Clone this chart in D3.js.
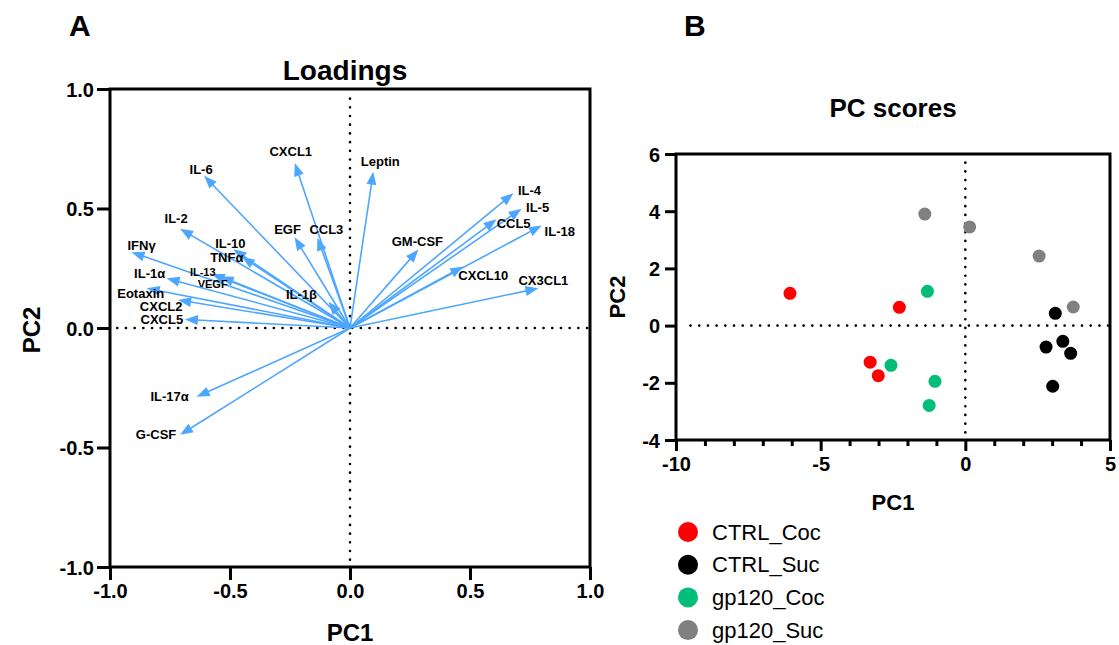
<!DOCTYPE html>
<html>
<head>
<meta charset="utf-8">
<script src="https://cdn.jsdelivr.net/npm/d3@7"></script>
<style>
  body { margin: 0; background: #fff; }
  svg { display: block; font-family: "Liberation Sans", Arial, sans-serif; }
</style>
</head>
<body>
<svg id="chart" width="1119" height="645"></svg>
<script>
// ---------- DATA ----------
const loadingVars = ["IL-6","CXCL1","Leptin","IL-2","EGF","CCL3","IL-10","TNFα","IFNγ","IL-13","VEGF","IL-1α","Eotaxin","CXCL2","CXCL5","IL-1β","GM-CSF","IL-4","IL-5","CCL5","IL-18","CXCL10","CX3CL1","IL-17α","G-CSF"];
const loadingPC1 = [-0.608,-0.230, 0.097,-0.708,-0.231,-0.136,-0.486,-0.451,-0.910,-0.576,-0.539,-0.764,-0.847,-0.716,-0.688,-0.090, 0.285, 0.681, 0.715, 0.611, 0.799, 0.472, 0.785,-0.639,-0.708];
const loadingPC2 = [ 0.637, 0.690, 0.654, 0.415, 0.380, 0.378, 0.329, 0.298, 0.317, 0.226, 0.215, 0.208, 0.166, 0.117, 0.036, 0.110, 0.328, 0.564, 0.499, 0.455, 0.429, 0.257, 0.166,-0.288,-0.447];

const groups = ["CTRL_Coc","CTRL_Suc","gp120_Coc","gp120_Suc"];
const scoreGroup = ["CTRL_Coc","CTRL_Coc","CTRL_Coc","CTRL_Coc",
                    "CTRL_Suc","CTRL_Suc","CTRL_Suc","CTRL_Suc","CTRL_Suc",
                    "gp120_Coc","gp120_Coc","gp120_Coc","gp120_Coc",
                    "gp120_Suc","gp120_Suc","gp120_Suc","gp120_Suc"];
const scorePC1 = [-6.06,-2.28,-3.29,-3.01,  3.11, 3.37, 2.79, 3.64, 3.02,  -1.31,-2.57,-1.05,-1.25,  -1.40, 0.15, 2.55, 3.73];
const scorePC2 = [ 1.13, 0.64,-1.28,-1.75,  0.43,-0.55,-0.75,-0.97,-2.12,   1.20,-1.39,-1.95,-2.79,   3.90, 3.45, 2.43, 0.65];

const loadTicks = [-1.0,-0.5,0.0,0.5,1.0];
const scoreXTicks = [-10,-5,0,5];
const scoreXMinor = [-9,-8,-7,-6,-4,-3,-2,-1,1,2,3,4];
const scoreYTicks = [-4,-2,0,2,4,6];

// ---------- LAYOUT / STYLE ----------
const labelOffset = { // px offset of label centre from arrow tip
  "IL-6":[-3,-6],"CXCL1":[-4,-12],"Leptin":[7,-10],"IL-2":[-4,-10],"EGF":[-7,-8],"CCL3":[9,-8],
  "IL-10":[-3,-6],"TNFα":[-15,1],"IFNγ":[10,-7],"IL-13":[-9,-2],"VEGF":[-8,7],"IL-1α":[-17,-5],
  "Eotaxin":[-6,5],"CXCL2":[-17,6],"CXCL5":[-23,0],"IL-1β":[-27,-7],"GM-CSF":[-1,-8],
  "IL-4":[16,-3],"IL-5":[16,-1],"CCL5":[17,4],"IL-18":[18,6],"CXCL10":[20,9],"CX3CL1":[5,-8],
  "IL-17α":[-27,0],"G-CSF":[-24,0]
};
const smallLabels = new Set(["IL-13","VEGF"]);
const groupColor = d3.scaleOrdinal().domain(groups).range(["#ff0000","#000000","#00be78","#808080"]);
const arrowColor = "#4da6ff";
const hyphen = f => (d => f(d).replace("\u2212","-"));

const svg = d3.select("#chart");

// ===== Panel A: Loadings =====
const xL = d3.scaleLinear().domain([-1,1]).range([110,590]);
const yL = d3.scaleLinear().domain([-1,1]).range([567,89]);

const gA = svg.append("g");
gA.append("line").attr("x1",xL(-0.97)).attr("x2",xL(1)).attr("y1",yL(0)).attr("y2",yL(0))
  .attr("stroke","#000").attr("stroke-width",2.6).attr("stroke-linecap","round").attr("stroke-dasharray","0.1 8.6");
gA.append("line").attr("x1",xL(0)).attr("x2",xL(0)).attr("y1",yL(0.96)).attr("y2",yL(-1))
  .attr("stroke","#000").attr("stroke-width",2.6).attr("stroke-linecap","round").attr("stroke-dasharray","0.1 8.6");

const headLen = 13, headHalf = 5;
const arrows = gA.append("g");
loadingVars.forEach((name,i) => {
  const x0 = xL(0), y0 = yL(0), x1 = xL(loadingPC1[i]), y1 = yL(loadingPC2[i]);
  const dx = x1-x0, dy = y1-y0, L = Math.hypot(dx,dy), ux = dx/L, uy = dy/L;
  const bx = x1-ux*headLen, by = y1-uy*headLen;
  arrows.append("line").attr("x1",x0).attr("y1",y0).attr("x2",bx+ux*2).attr("y2",by+uy*2)
    .attr("stroke",arrowColor).attr("stroke-width",1.6);
  arrows.append("path")
    .attr("d",`M${x1},${y1}L${bx-uy*headHalf},${by+ux*headHalf}L${bx+uy*headHalf},${by-ux*headHalf}Z`)
    .attr("fill",arrowColor);
  const off = labelOffset[name] || [0,0];
  arrows.append("text").attr("x",x1+off[0]).attr("y",y1+off[1])
    .attr("text-anchor","middle").attr("dominant-baseline","central")
    .attr("font-weight","bold").attr("font-size",smallLabels.has(name)?11:13)
    .attr("fill","#000").text(name);
});

const axA_x = gA.append("g").attr("transform",`translate(0,${yL(-1)})`)
  .call(d3.axisBottom(xL).tickValues(loadTicks).tickFormat(hyphen(d3.format(".1f"))).tickSize(13).tickPadding(4));
const axA_y = gA.append("g").attr("transform",`translate(${xL(-1)},0)`)
  .call(d3.axisLeft(yL).tickValues(loadTicks).tickFormat(hyphen(d3.format(".1f"))).tickSize(13).tickPadding(3));
[axA_x, axA_y].forEach(a => {
  a.select(".domain").remove();
  a.selectAll("line").attr("stroke","#000").attr("stroke-width",3);
  a.selectAll("text").attr("font-size",20).attr("font-weight","bold").attr("fill","#000")
    .attr("font-family","'Liberation Sans', Arial, sans-serif");
});
axA_y.selectAll("text").attr("dy","0.35em");
gA.append("rect").attr("x",xL(-1)).attr("y",yL(1)).attr("width",xL(1)-xL(-1)).attr("height",yL(-1)-yL(1))
  .attr("fill","none").attr("stroke","#000").attr("stroke-width",3);

gA.append("text").attr("x",345).attr("y",80).attr("text-anchor","middle")
  .attr("font-size",28).attr("font-weight","bold").text("Loadings");
gA.append("text").attr("x",350).attr("y",641).attr("text-anchor","middle")
  .attr("font-size",24).attr("font-weight","bold").text("PC1");
gA.append("text").attr("transform","translate(40,330) rotate(-90)").attr("text-anchor","middle")
  .attr("font-size",24).attr("font-weight","bold").text("PC2");
svg.append("text").attr("x",69).attr("y",36).attr("font-size",30).attr("font-weight","bold").text("A");

// ===== Panel B: PC scores =====
const xS = d3.scaleLinear().domain([-10,5]).range([676,1110]);
const yS = d3.scaleLinear().domain([-4,6]).range([440,154]);
const gB = svg.append("g");

gB.append("line").attr("x1",xS(-9.5)).attr("x2",xS(5)).attr("y1",yS(0)).attr("y2",yS(0))
  .attr("stroke","#000").attr("stroke-width",2.6).attr("stroke-linecap","round").attr("stroke-dasharray","0.1 8.6");
gB.append("line").attr("x1",xS(0)).attr("x2",xS(0)).attr("y1",yS(5.7)).attr("y2",yS(-4))
  .attr("stroke","#000").attr("stroke-width",2.6).attr("stroke-linecap","round").attr("stroke-dasharray","0.1 8.6");

gB.append("g").selectAll("circle").data(scorePC1.map((v,i)=>i)).join("circle")
  .attr("cx",i=>xS(scorePC1[i])).attr("cy",i=>yS(scorePC2[i])).attr("r",6.5)
  .attr("fill",i=>groupColor(scoreGroup[i]));

const axB_xm = gB.append("g").attr("transform",`translate(0,${yS(-4)})`)
  .call(d3.axisBottom(xS).tickValues(scoreXMinor).tickFormat("").tickSize(6));
const axB_x = gB.append("g").attr("transform",`translate(0,${yS(-4)})`)
  .call(d3.axisBottom(xS).tickValues(scoreXTicks).tickFormat(hyphen(d3.format("d"))).tickSize(11).tickPadding(6));
const axB_y = gB.append("g").attr("transform",`translate(${xS(-10)},0)`)
  .call(d3.axisLeft(yS).tickValues(scoreYTicks).tickFormat(hyphen(d3.format("d"))).tickSize(11).tickPadding(5));
[axB_xm, axB_x, axB_y].forEach(a => {
  a.select(".domain").remove();
  a.selectAll("line").attr("stroke","#000").attr("stroke-width",3);
  a.selectAll("text").attr("font-size",20).attr("font-weight","bold").attr("fill","#000")
    .attr("font-family","'Liberation Sans', Arial, sans-serif");
});
axB_y.selectAll("text").attr("dy","0.35em");
gB.append("rect").attr("x",xS(-10)).attr("y",yS(6)).attr("width",xS(5)-xS(-10)).attr("height",yS(-4)-yS(6))
  .attr("fill","none").attr("stroke","#000").attr("stroke-width",3);

gB.append("text").attr("x",893).attr("y",117).attr("text-anchor","middle")
  .attr("font-size",26).attr("font-weight","bold").text("PC scores");
gB.append("text").attr("x",893).attr("y",510).attr("text-anchor","middle")
  .attr("font-size",22).attr("font-weight","bold").text("PC1");
gB.append("text").attr("transform","translate(625,297) rotate(-90)").attr("text-anchor","middle")
  .attr("font-size",22).attr("font-weight","bold").text("PC2");
svg.append("text").attr("x",684).attr("y",36).attr("font-size",30).attr("font-weight","bold").text("B");

const leg = gB.append("g").selectAll("g").data(groups).join("g")
  .attr("transform",(d,i)=>`translate(688,${532 + i*32.7})`);
leg.append("circle").attr("r",10).attr("fill",d=>groupColor(d));
leg.append("text").attr("x",24).attr("dominant-baseline","central").attr("font-size",22).text(d=>d);
</script>
</body>
</html>
